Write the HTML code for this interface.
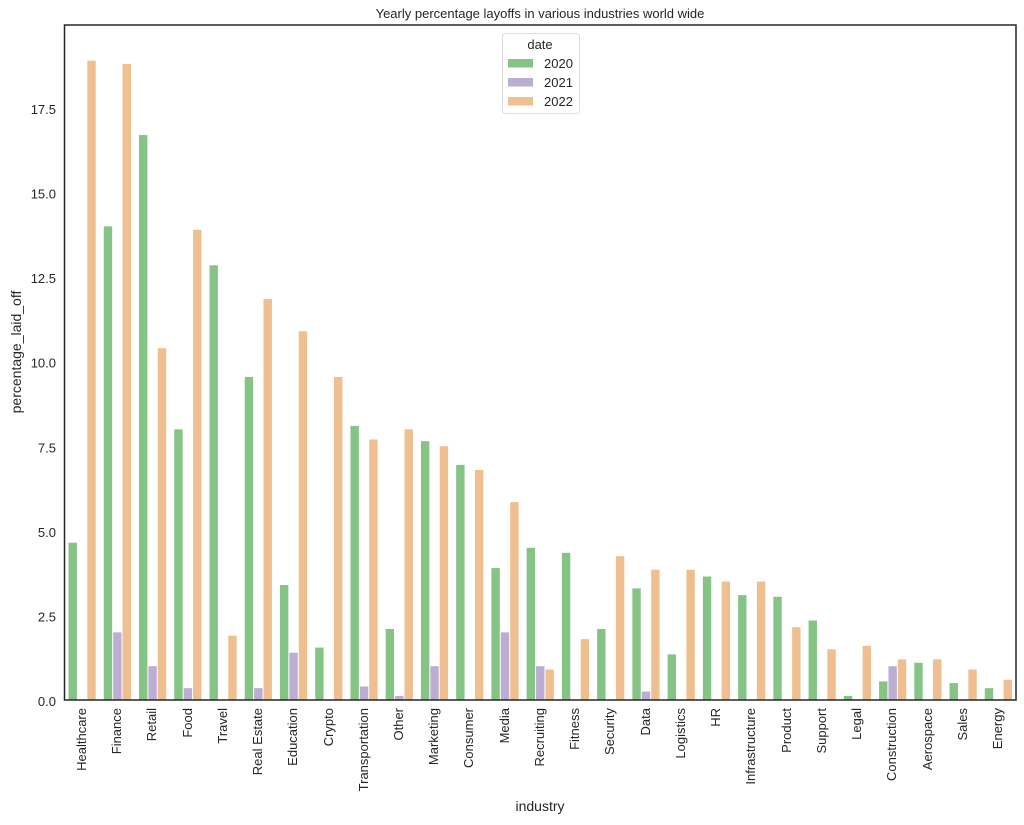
<!DOCTYPE html>
<html><head><meta charset="utf-8"><style>
body{margin:0;background:#fff;}
svg{display:block;font-family:"Liberation Sans",sans-serif;fill:#262626;}
</style></head><body>
<svg id="s" width="1024" height="825" xmlns="http://www.w3.org/2000/svg">
<text x="540" y="18" font-size="13" text-anchor="middle">Yearly percentage layoffs in various industries world wide</text>
<g id="bars"></g>
<rect x="64.5" y="25" width="951.5" height="675" fill="none" stroke="#262626" stroke-width="1.5"/>
<g font-size="13" text-anchor="end">
<text x="56" y="706">0.0</text>
<text x="56" y="621.4">2.5</text>
<text x="56" y="536.9">5.0</text>
<text x="56" y="452.3">7.5</text>
<text x="56" y="367.7">10.0</text>
<text x="56" y="283.2">12.5</text>
<text x="56" y="198.6">15.0</text>
<text x="56" y="114">17.5</text>
</g>
<text transform="translate(21,352) rotate(-90)" font-size="14" text-anchor="middle">percentage_laid_off</text>
<text x="540" y="811" font-size="14" text-anchor="middle">industry</text>
<g font-size="13" text-anchor="end" id="xl">
<text transform="translate(86,708) rotate(-90)">Healthcare</text>
<text transform="translate(121,708) rotate(-90)">Finance</text>
<text transform="translate(156,708) rotate(-90)">Retail</text>
<text transform="translate(192,708) rotate(-90)">Food</text>
<text transform="translate(227,708) rotate(-90)">Travel</text>
<text transform="translate(262,708) rotate(-90)">Real Estate</text>
<text transform="translate(297,708) rotate(-90)">Education</text>
<text transform="translate(333,708) rotate(-90)">Crypto</text>
<text transform="translate(368,708) rotate(-90)">Transportation</text>
<text transform="translate(403,708) rotate(-90)">Other</text>
<text transform="translate(438,708) rotate(-90)">Marketing</text>
<text transform="translate(473,708) rotate(-90)">Consumer</text>
<text transform="translate(509,708) rotate(-90)">Media</text>
<text transform="translate(544,708) rotate(-90)">Recruiting</text>
<text transform="translate(579,708) rotate(-90)">Fitness</text>
<text transform="translate(614,708) rotate(-90)">Security</text>
<text transform="translate(650,708) rotate(-90)">Data</text>
<text transform="translate(685,708) rotate(-90)">Logistics</text>
<text transform="translate(720,708) rotate(-90)">HR</text>
<text transform="translate(755,708) rotate(-90)">Infrastructure</text>
<text transform="translate(791,708) rotate(-90)">Product</text>
<text transform="translate(826,708) rotate(-90)">Support</text>
<text transform="translate(861,708) rotate(-90)">Legal</text>
<text transform="translate(896,708) rotate(-90)">Construction</text>
<text transform="translate(932,708) rotate(-90)">Aerospace</text>
<text transform="translate(967,708) rotate(-90)">Sales</text>
<text transform="translate(1002,708) rotate(-90)">Energy</text>
</g>
<rect x="502.5" y="33.5" width="77" height="80" rx="3" fill="#fff" fill-opacity="0.8" stroke="#ddd"/>
<text x="540" y="49" font-size="13" text-anchor="middle">date</text>
<rect x="508" y="59" width="25" height="8.5" fill="#86c486"/>
<rect x="508" y="78" width="25" height="8.5" fill="#bcaed3"/>
<rect x="508" y="97" width="25" height="8.5" fill="#efbf90"/>
<text x="544" y="68" font-size="13">2020</text>
<text x="544" y="87" font-size="13">2021</text>
<text x="544" y="106" font-size="13">2022</text>
</svg>
<script>
var d=[[4.65,0,18.9],[14.0,2.0,18.8],[16.7,1.0,10.4],[8.0,0.35,13.9],[12.85,0,1.9],[9.55,0.35,11.85],[3.4,1.4,10.9],[1.55,0,9.55],[8.1,0.4,7.7],[2.1,0.12,8.0],[7.65,1.0,7.5],[6.95,0,6.8],[3.9,2.0,5.85],[4.5,1.0,0.9],[4.35,0,1.8],[2.1,0,4.25],[3.3,0.25,3.85],[1.35,0,3.85],[3.65,0,3.5],[3.1,0,3.5],[3.05,0,2.15],[2.35,0,1.5],[0.12,0,1.6],[0.55,1.0,1.2],[1.1,0,1.2],[0.5,0,0.9],[0.35,0,0.6]];
var col=["#86c486","#bcaed3","#efbf90"],g=document.getElementById("bars"),h="";
var cw=951.5/27,w=cw*0.8/3,s=33.83;
d.forEach(function(r,i){var c=64.5+cw*(i+0.5);r.forEach(function(v,j){if(v<=0)return;var x=c-1.5*w+j*w,hh=v*s;h+='<rect x="'+(x+0.5)+'" y="'+(700-hh)+'" width="'+(w-1)+'" height="'+hh+'" fill="'+col[j]+'"/>';});});
g.innerHTML=h;
</script>
</body></html>
